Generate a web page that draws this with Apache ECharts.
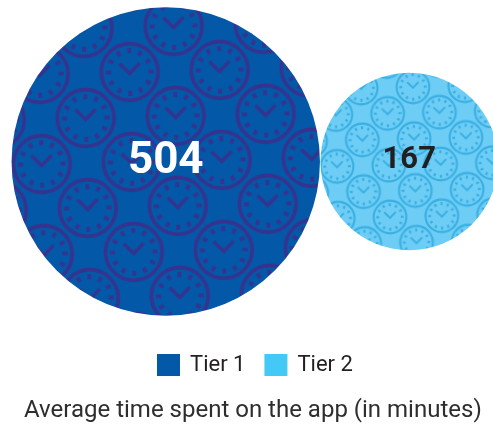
<!DOCTYPE html>
<html>
<head>
<meta charset="utf-8">
<script src="https://cdn.jsdelivr.net/npm/echarts@6/dist/echarts.min.js"></script>
<style>
  html, body { margin: 0; padding: 0; background: #ffffff; }
  #chart { width: 493px; height: 427px; }
</style>
</head>
<body>
<div id="chart"></div>
<script>
// Data
const categories = ['Tier 1', 'Tier 2'];
const minutes = [504, 167];
const titleText = 'Average time spent on the app (in minutes)';

// Look of each tier: bubble fill, clock line colour, legend swatch, label
const tierStyle = [
  { fill: '#0358a7', line: '#36338f', legend: '#0358a7', label: '#ffffff', labelSize: 44, labelDy: 0, patternOffset: [-34, 0.5] },
  { fill: '#6dcdf5', line: '#3aafe2', legend: '#44c8f5', label: '#231f20', labelSize: 31, labelDy: -1.5, patternOffset: [-20.4, 3.7] }
];

const R_MAX = 154.2;          // radius of the largest bubble, px (area ~ value)
const maxMinutes = Math.max.apply(null, minutes);
const bubbleScale = minutes.map(function (v) { return Math.sqrt(v / maxMinutes); });

// Clock wallpaper: centred square lattice, sizes given for the largest bubble
const CELL_W = 90, CELL_H = 90;

function drawClock(ctx, x, y) {
  ctx.lineWidth = 3.6;
  ctx.beginPath();
  ctx.arc(x, y, 28.4, 0, Math.PI * 2);
  ctx.stroke();
  for (let k = 0; k < 12; k++) {
    ctx.save();
    ctx.translate(x, y);
    ctx.rotate(k * Math.PI / 6);
    ctx.fillRect(-1.9, -21.3 - 2.5, 3.8, 5);
    ctx.restore();
  }
  ctx.lineJoin = 'miter';
  ctx.lineWidth = 3.4;
  ctx.beginPath();
  ctx.moveTo(x - 10, y - 8.5);
  ctx.lineTo(x, y + 1.5);
  ctx.lineTo(x + 10, y - 8.5);
  ctx.stroke();
}

// One tile per bubble, rendered at the bubble's own scale so no resampling blurs the lines
function clockTile(fill, line, s) {
  const c = document.createElement('canvas');
  c.width = Math.round(CELL_W * s);
  c.height = Math.round(CELL_H * s);
  const ctx = c.getContext('2d');
  ctx.scale(c.width / CELL_W, c.height / CELL_H);
  ctx.fillStyle = fill;
  ctx.fillRect(0, 0, CELL_W, CELL_H);
  ctx.strokeStyle = line;
  ctx.fillStyle = line;
  for (let j = -1; j <= 2; j++) {
    for (let i = -1; i <= 2; i++) {
      const x = i * CELL_W + ((j & 1) ? CELL_W / 2 : 0);
      const y = j * CELL_H / 2;
      drawClock(ctx, x, y);
    }
  }
  return c;
}

const tiles = tierStyle.map(function (t, i) { return clockTile(t.fill, t.line, bubbleScale[i]); });

function bubbleRenderer(idx) {
  return function (params, api) {
    const value = api.value(2);
    const c = api.coord([api.value(0), 0]);
    const s = Math.sqrt(value / maxMinutes);
    const r = R_MAX * s;
    const st = tierStyle[idx];
    const tile = tiles[idx];
    return {
      type: 'group',
      children: [
        {
          type: 'circle',
          shape: { cx: c[0], cy: c[1], r: r },
          style: {
            fill: {
              image: tile,
              repeat: 'repeat',
              x: c[0] + st.patternOffset[0],
              y: c[1] + st.patternOffset[1],
              rotation: -0.023,
              scaleX: CELL_W * s / tile.width,
              scaleY: CELL_H * s / tile.height
            }
          }
        },
        {
          type: 'text',
          x: c[0],
          y: c[1] + st.labelDy,
          style: {
            text: String(value),
            fill: st.label,
            fontFamily: 'Roboto',
            fontWeight: 'bold',
            fontSize: st.labelSize,
            align: 'center',
            verticalAlign: 'middle'
          }
        }
      ]
    };
  };
}

const chart = echarts.init(document.getElementById('chart'), null, { renderer: 'canvas' });

chart.setOption({
  animation: false,
  backgroundColor: '#ffffff',
  title: {
    text: titleText,
    left: 24,
    top: 399,
    padding: 0,
    textStyle: { fontFamily: 'Roboto', fontSize: 24, fontWeight: 'normal', color: '#2e2e2e' }
  },
  legend: {
    data: categories.map(function (n, i) { return { name: n, itemStyle: { color: tierStyle[i].legend } }; }),
    icon: 'rect',
    itemWidth: 23,
    itemHeight: 22,
    itemGap: 19,
    left: 157,
    top: 354,
    padding: 0,
    textStyle: { fontFamily: 'Roboto', fontSize: 22, color: '#231f20', padding: [0, 0, 0, 5] }
  },
  // the second bubble runs slightly past the right edge, so the plot area may too
  grid: { left: 44, top: 0, width: 487, height: 323, outerBoundsMode: 'none', containLabel: false },
  xAxis: { type: 'category', data: categories, show: false },
  yAxis: { type: 'value', min: -1, max: 1, show: false },
  series: categories.map(function (name, i) {
    return {
      name: name,
      type: 'custom',
      itemStyle: { color: tierStyle[i].legend },
      encode: { x: 0, y: 1 },
      data: [[i, 0, minutes[i]]],
      renderItem: bubbleRenderer(i)
    };
  })
});
</script>
</body>
</html>
